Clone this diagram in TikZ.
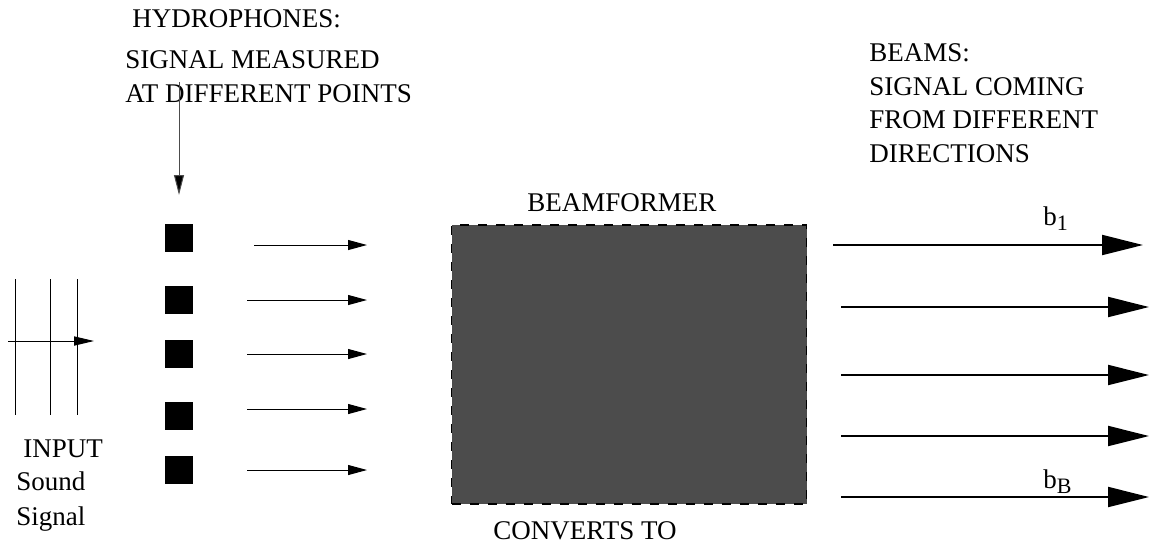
\documentclass[tikz,border=0pt]{standalone}
\usepackage{fontspec}
\setmainfont{Liberation Serif}
\usetikzlibrary{arrows.meta}
\begin{document}
\begin{tikzpicture}[x=0.5pt,y=-0.5pt,
  lbl/.style={anchor=base west,inner sep=0pt,font=\fontsize{13.5}{16.5}\selectfont},
  sensor/.style={fill=black,draw=none,minimum size=14pt,inner sep=0pt},
  thinarrow/.style={line width=0.5pt,-{Triangle[length=9.5pt,width=5pt]}},
  beamarrow/.style={line width=1pt,-{Triangle[length=20.5pt,width=10pt]}},
  wave/.style={line width=0.5pt}]
\useasboundingbox (0,0) rectangle (1154,548);

% titles
\node[lbl] (hyd) at (132,27) {HYDROPHONES:};
\node[lbl] (sig1) at (125,68) {SIGNAL MEASURED};
\node[lbl] (sig2) at (125,102) {AT DIFFERENT POINTS};
\node[lbl] (bm1) at (869,61) {BEAMS:};
\node[lbl] (bm2) at (869,95) {SIGNAL COMING};
\node[lbl] (bm3) at (869,128) {FROM DIFFERENT};
\node[lbl] (bm4) at (869,162) {DIRECTIONS};
\node[lbl] (bflbl) at (527,211) {BEAMFORMER};
\node[lbl] (conv) at (493,539) {CONVERTS TO};
\node[lbl] (in1) at (23,457) {INPUT};
\node[lbl] (in2) at (16,490) {Sound};
\node[lbl] (in3) at (16,525) {Signal};

% incoming plane wave
\coordinate (w1t) at (15,279); \coordinate (w1b) at (15,415);
\coordinate (w2t) at (50,279); \coordinate (w2b) at (50,415);
\coordinate (w3t) at (77,279); \coordinate (w3b) at (77,415);
\draw[wave] (w1t) -- (w1b);
\draw[wave] (w2t) -- (w2b);
\draw[wave] (w3t) -- (w3b);
\coordinate (ws) at (8,341); \coordinate (we) at (94,341);
\draw[line width=0.5pt,-{Triangle[length=10pt,width=4.6pt]}] (ws) -- (we);

% hydrophones
\foreach \i/\y in {1/238,2/300,3/354,4/416,5/470}{
  \node[sensor] (h\i) at (179,\y) {};
}
\coordinate (dtop) at (179,82);
\draw[line width=0.5pt,draw=black!70,-{Triangle[length=10pt,width=5pt,fill=black]}] (dtop) -- (h1.north |- 0,195);

% hydrophone outputs
\foreach \i/\y/\x in {1/245/254,2/300/247,3/354/247,4/409/247,5/470/247}{
  \coordinate (ho\i) at (\x,\y);
  \coordinate (hi\i) at (367,\y);
  \draw[thinarrow] (ho\i) -- (hi\i);
}

% beamformer block
\node[draw=black,fill=black!70,dash pattern=on 4.5pt off 4.5pt,line width=0.8pt,
  minimum width=177.5pt,minimum height=139.5pt,inner sep=0pt] (bf) at (629,364.5) {};

% beams
\foreach \i/\y/\x in {1/245/833,2/307/841,3/375/841,4/436/841,5/497/841}{
  \coordinate (bs\i) at (\x,\y);
  \coordinate (be\i) at (\ifnum\i=1 1143\else 1149\fi,\y);
  \draw[beamarrow] (bs\i) -- (be\i);
}
\node[lbl] (b1) at (1043,225) {b\raisebox{-0.45ex}{\fontsize{11}{12}\selectfont 1}};
\node[lbl] (bB) at (1043,488) {b\raisebox{-0.45ex}{\fontsize{11}{12}\selectfont B}};
\end{tikzpicture}
\end{document}
